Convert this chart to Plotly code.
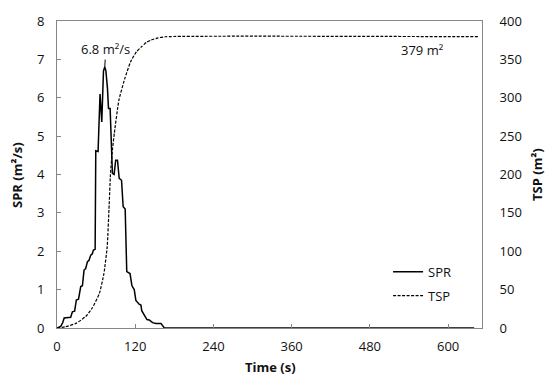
import plotly.graph_objects as go

# ---- data ----
spr_t = [0, 3, 6, 9, 11, 21, 23.6, 27, 29.7, 33, 36.4, 39, 41.5, 44, 46.7, 49, 51.8, 54, 55.9, 58.5,
         59.5, 63, 66, 68.7, 71.3, 73.3, 75, 77.4, 79, 81.5, 84, 85, 87.6, 90, 92.8, 95.4, 99,
         101.5, 104.6, 107, 112, 115, 118.5, 121, 126, 128.7, 130, 134, 138, 141.5, 146.6, 151.8,
         159.5, 164.6, 640]
spr_v = [0, 0.02, 0.05, 0.15, 0.26, 0.28, 0.42, 0.44, 0.73, 0.75, 1.08, 1.1, 1.51, 1.55, 1.73, 1.76,
         1.9, 1.93, 2.03, 2.05,
         4.62, 4.6, 6.1, 5.37, 6.7, 6.8, 6.7, 6.25, 5.72, 5.72, 4.46, 4.03, 4.0, 4.37, 4.37, 3.9, 3.85,
         3.16, 3.1, 1.47, 1.42, 1.1, 1.0, 0.72, 0.62, 0.6, 0.45, 0.32, 0.22, 0.21, 0.14, 0.12,
         0.12, 0.0, 0.0]

tsp_t = [0, 13, 29, 44, 54, 65, 72, 77, 80, 82, 85, 88, 95, 104, 113, 122, 129, 137, 144, 155, 167, 648]
tsp_v = [0, 1.7, 6, 15, 26, 45, 71, 106, 160, 200, 232, 254, 297, 325, 347, 360, 366, 372, 375, 378, 379.5, 379.5]

x_ticks = [0, 120, 240, 360, 480, 600]
spr_label = "6.8 m²/s"
tsp_label = "379 m²"
peak_t, peak_v = 73.3, 6.8

FONT = "Open Sans"
AX = "#868686"
TXT = "#111111"

fig = go.Figure()
fig.add_trace(go.Scatter(x=spr_t, y=spr_v, name="SPR", mode="lines",
                         line=dict(color="black", width=1.5), legendgroup="a"))
fig.add_trace(go.Scatter(x=tsp_t, y=tsp_v, name="TSP", mode="lines", yaxis="y2",
                         line=dict(color="black", width=1.2, dash="3px,1.5px", shape="spline", smoothing=0.5),
                         legendgroup="b"))

fig.update_layout(
    width=550, height=381,
    margin=dict(l=57, r=68, t=21, b=53),
    paper_bgcolor="white", plot_bgcolor="white",
    font=dict(family=FONT, size=13, color=TXT),
    showlegend=True,
    legend=dict(x=0.779, y=0.232, xanchor="left", yanchor="top", bgcolor="rgba(0,0,0,0)",
                traceorder="grouped", tracegroupgap=4, font=dict(size=13)),
    xaxis=dict(range=[0, 652], tickvals=x_ticks, showgrid=False, zeroline=False,
               showline=True, linecolor=AX, linewidth=1, mirror=True,
               ticks="inside", ticklen=4, tickcolor=AX, automargin=False,
               ticklabelstandoff=6),
    yaxis=dict(range=[0, 8], dtick=1, showgrid=False, zeroline=False,
               showline=True, linecolor=AX, linewidth=1, automargin=False,
               ticks="inside", ticklen=4, tickcolor=AX, ticklabelstandoff=9),
    yaxis2=dict(range=[0, 400], dtick=50, overlaying="y", side="right", showgrid=False,
                zeroline=False, showline=True, linecolor=AX, linewidth=1, ticks="",
                automargin=False, ticklabelstandoff=14),
    annotations=[
        dict(x=peak_t, y=peak_v, xref="x", yref="y", text=spr_label, showarrow=True,
             arrowhead=0, arrowwidth=1, arrowcolor="black", ax=1, ay=-18,
             font=dict(size=13, color=TXT)),
        dict(x=560, y=362, xref="x", yref="y2", text=tsp_label, showarrow=False,
             font=dict(size=13, color=TXT)),
        dict(x=17, y=175, xref="paper", yref="paper", text="<b>SPR (m²/s)</b>", showarrow=False,
             textangle=-90, xanchor="center", yanchor="middle", font=dict(size=13, color=TXT)),
        dict(x=537, y=175, xref="paper", yref="paper", text="<b>TSP (m²)</b>", showarrow=False,
             textangle=-90, xanchor="center", yanchor="middle", font=dict(size=13, color=TXT)),
        dict(x=270, y=367, xref="paper", yref="paper", text="<b>Time (s)</b>", showarrow=False,
             xanchor="center", yanchor="middle", font=dict(size=13, color=TXT)),
    ],
)

# convert the pixel positions of the axis-title annotations to paper coordinates
L, R, T, B, W, H = 57, 68, 21, 53, 550, 381
pw, ph = W - L - R, H - T - B
for a in fig.layout.annotations[2:]:
    a.x = (a.x - L) / pw
    a.y = (H - B - a.y) / ph

fig.write_html("out.html", config={"displayModeBar": False},
               post_script="document.body.style.margin='0';document.body.style.overflow='hidden';")
